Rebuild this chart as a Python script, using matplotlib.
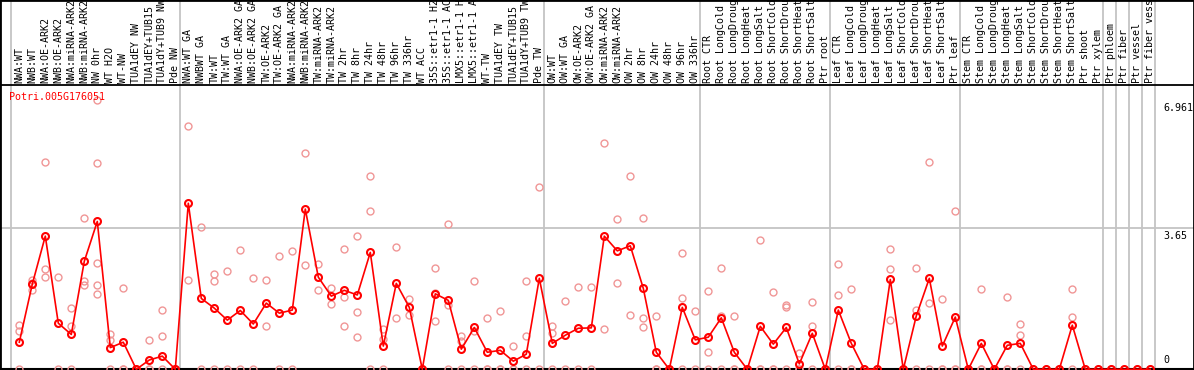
"""
Expression profile of one poplar gene across the sample panel.
"""
import matplotlib
matplotlib.use("Agg")
import matplotlib.pyplot as plt

gene = "Potri.005G176051"

labels = ["NWA:WT", "NWB:WT", "NWA:OE-ARK2", "NWB:OE-ARK2", "NWA:miRNA-ARK2", "NWB:miRNA-ARK2",
          "NW 0hr", "WT H2O", "WT-NW", "TUA1dEY NW", "TUA1dEY+TUB15", "TUA1dY+TUB9 NW", "Pde NW",
          "NWA:WT GA", "NWBWT GA", "TW:WT", "TW:WT GA", "NWA:OE-ARK2 GA", "NWB:OE-ARK2 GA",
          "TW:OE-ARK2", "TW:OE-ARK2 GA", "NWA:miRNA-ARK2", "NWB:miRNA-ARK2", "TW:miRNA-ARK2",
          "TW:miRNA-ARK2", "TW 2hr", "TW 8hr", "TW 24hr", "TW 48hr", "TW 96hr", "TW 336hr",
          "WT ACC", "35S::etr1-1 H2", "35S::etr1-1 AC", "LMX5::etr1-1 H", "LMX5::etr1-1 A",
          "WT-TW", "TUA1dEY TW", "TUA1dEY+TUB15", "TUA1dY+TUB9 TW", "Pde TW",
          "OW:WT", "OW:WT GA", "OW:OE-ARK2", "OW:OE-ARK2 GA", "OW:miRNA-ARK2", "OW:miRNA-ARK2",
          "OW 2hr", "OW 8hr", "OW 24hr", "OW 48hr", "OW 96hr", "OW 336hr",
          "Root CTR", "Root LongCold", "Root LongDroug", "Root LongHeat", "Root LongSalt",
          "Root ShortCold", "Root ShortDrou", "Root ShortHeat", "Root ShortSalt", "Ptr root",
          "Leaf CTR", "Leaf LongCold", "Leaf LongDroug", "Leaf LongHeat", "Leaf LongSalt",
          "Leaf ShortCold", "Leaf ShortDrou", "Leaf ShortHeat", "Leaf ShortSalt", "Ptr leaf",
          "Stem CTR", "Stem LongCold", "Stem LongDroug", "Stem LongHeat", "Stem LongSalt",
          "Stem ShortCold", "Stem ShortDrou", "Stem ShortHeat", "Stem ShortSalt", "Ptr shoot",
          "Ptr xylem", "Ptr phloem", "Ptr fiber", "Ptr vessel", "Ptr fiber vess"]

means = [0.70, 2.20, 3.44, 1.19, 0.90, 2.79, 3.82, 0.56, 0.70, 0, 0.24, 0.34, 0, 4.29,
         1.83, 1.58, 1.27, 1.52, 1.17, 1.71, 1.45, 1.53, 4.14, 2.38, 1.89, 2.04, 1.92, 3.02, 0.60,
         2.22, 1.60, 0, 1.95, 1.78, 0.52, 1.08, 0.44, 0.49, 0.21, 0.39, 2.35, 0.67, 0.88, 1.06,
         1.07, 3.44, 3.06, 3.19, 2.09, 0.44, 0, 1.60, 0.76, 0.83, 1.33, 0.44, 0, 1.11, 0.65,
         1.08, 0.14, 0.93, 0, 1.53, 0.67, 0, 0, 2.32, 0, 1.38, 2.35, 0.60, 1.35, 0,
         0.67, 0, 0.62, 0.67, 0, 0, 0, 1.14, 0, 0, 0, 0, 0, 0]

replicates = [[1.14, 0.99, 0], [2.31, 2.05, 2.24], [5.36, 2.59, 2.38], [2.38, 0], [1.58, 1.11, 0],
              [3.90, 2.28, 2.18], [6.96, 5.33, 2.75, 2.18, 1.94], [0.92, 0.76, 0], [2.09, 0, 0],
              [0, 0, 0], [0.76, 0, 0], [1.53, 0.85, 0], [0, 0], [6.29, 2.31],
              [3.67, 0], [2.46, 2.29, 0], [2.54, 0], [3.07, 0], [2.35, 0], [2.30, 1.11],
              [2.93, 0], [3.05, 0], [5.58, 2.69], [2.72, 2.05], [2.10, 1.68], [3.11, 1.88, 1.11],
              [3.44, 1.47, 0.83], [4.99, 4.08, 0], [1.03, 0.79, 0],
              [3.15, 1.32], [1.81, 1.39], [0], [2.61, 1.98, 1.25], [3.75, 1.66, 0],
              [0.86, 0.74, 0], [2.27, 1.00, 0], [1.32, 0, 0], [1.50, 0, 0], [0.61, 0, 0],
              [2.27, 0.85, 0], [4.70, 0], [1.13, 0.93, 0], [1.76, 0], [2.12, 0],
              [2.13, 0], [5.84, 1.03], [3.87, 2.22], [4.99, 1.40], [3.90, 1.32, 1.08],
              [1.37, 0, 0], [0], [3.00, 1.83, 0], [1.51, 0], [2.02, 0.45, 0], [2.62, 1.38, 0],
              [1.37, 0, 0], [0], [3.34, 0, 0], [2.00, 0, 0],
              [1.66, 1.62, 0], [0.41, 0, 0], [1.74, 1.11, 0], [0], [2.72, 1.92, 0], [2.07, 0, 0],
              [0], [0], [3.11, 2.58, 1.27], [0], [2.61, 1.53, 0], [5.36, 1.70, 0], [1.82, 0, 0],
              [4.08, 0, 0], [0],
              [2.07, 0, 0], [0], [1.86, 0, 0], [1.16, 0.88, 0], [0], [0], [0], [2.07, 1.34, 0],
              [0], [0], [0], [0], [0], [0]]

# first sample of each tissue block, the last entry closes the panel
group_starts = [0, 13, 41, 53, 63, 73, 84, 85, 86, 87, 88]
y_ticks = [6.961, 3.65, 0]

# pixel layout of the 1194x370 canvas
W, H = 1194, 370
x_first, x_step = 19.3, 13.0       # px of sample 0, px between samples
y_zero, y_unit = 369.3, 38.71      # px (from top) of value 0, px per unit
header_px = 85                     # bottom of the label strip

fig = plt.figure(figsize=(W / 100, H / 100), dpi=100)
ax = fig.add_axes([0, 0, 1, 1])
ax.set_xlim(-x_first / x_step, (W - x_first) / x_step)
ax.set_ylim(-(H - y_zero) / y_unit, y_zero / y_unit)
ax.set_xticks([])
ax.set_yticks([])
for sp in ax.spines.values():
    sp.set_color("black")
    sp.set_linewidth(2)

mono = "DejaVu Sans Mono"
fs = 7.2

# grid
ax.axhline(3.65, color="#c4c4c4", lw=1.3, zorder=1)
for s in group_starts:
    ax.axvline(s - 0.65, color="#c4c4c4", lw=1.3, zorder=1)
ax.axhline((y_zero - header_px) / y_unit, color="black", lw=1.3, zorder=2)
ax.axhline(0, color="black", lw=1.5, zorder=2)

# sample names along the top
y_lab = (y_zero - header_px + 2) / y_unit
for i, lab in enumerate(labels):
    ax.text(i, y_lab, lab, rotation=90, ha="center", va="bottom",
            family=mono, fontsize=fs, color="black")

ax.text((9 - x_first) / x_step, 7.03, gene, ha="left", va="center",
        family=mono, fontsize=fs, color="red", zorder=5)

# value scale on the right
x_tick = (1163 - x_first) / x_step
for v in y_ticks:
    ax.annotate(str(v), (x_tick, v), xytext=(0, -2 if v > 0 else 3),
                textcoords="offset points", ha="left",
                va="top" if v > 0 else "bottom",
                family=mono, fontsize=fs, color="black")

# replicates
for i, vals in enumerate(replicates):
    ax.plot([i] * len(vals), vals, "o", mfc="none", mec="#f09696", ms=5, mew=1.0, zorder=3)

# mean profile
ax.plot(range(len(means)), means, "-", color="red", lw=1.2, marker="o",
        mfc="none", mec="red", ms=5, mew=1.5, zorder=4)

fig.savefig("out.png", dpi=100)
